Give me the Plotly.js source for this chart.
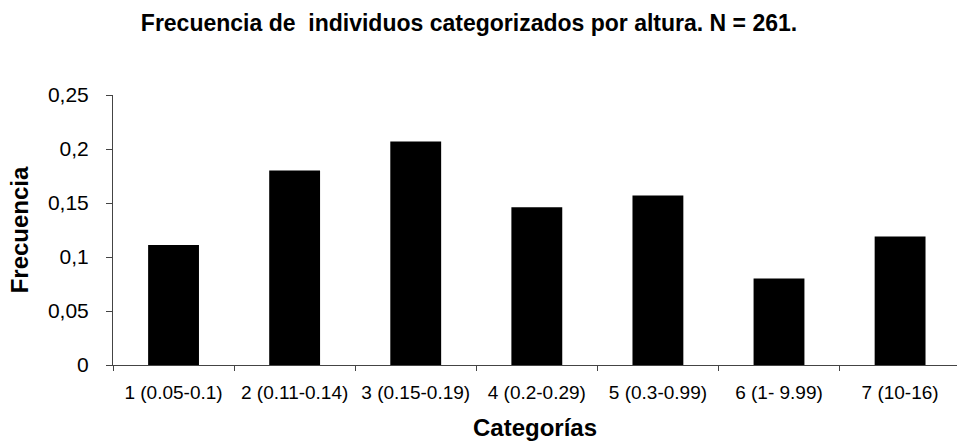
<!DOCTYPE html>
<html>
<head>
<meta charset="utf-8">
<script src="https://cdn.plot.ly/plotly-3.0.1.min.js"></script>
<style>html,body{margin:0;padding:0;background:#fff;}#chart{width:957px;height:443px;}</style>
</head>
<body>
<div id="chart"></div>
<script>
const categories = ["1 (0.05-0.1)", "2 (0.11-0.14)", "3 (0.15-0.19)", "4 (0.2-0.29)", "5 (0.3-0.99)", "6 (1- 9.99)", "7 (10-16)"];
const frecuencia = [0.111, 0.180, 0.207, 0.146, 0.157, 0.080, 0.119];
const yTickVals = [0, 0.05, 0.1, 0.15, 0.2, 0.25];
const yTickText = ["0", "0,05", "0,1", "0,15", "0,2", "0,25"];

const data = [{
  type: 'bar',
  x: categories,
  y: frecuencia,
  marker: {color: '#000000', line: {width: 0}},
  hoverinfo: 'x+y'
}];

const layout = {
  width: 957,
  height: 443,
  margin: {l: 113, r: 0, t: 95, b: 78},
  paper_bgcolor: '#ffffff',
  plot_bgcolor: '#ffffff',
  bargap: 0.58,
  showlegend: false,
  font: {family: 'Liberation Sans, Arial, sans-serif', color: '#000'},
  title: {
    text: '<b>Frecuencia de  individuos categorizados por altura. N = 261.</b>',
    font: {size: 23, family: 'Liberation Sans, Arial, sans-serif', color: '#000'},
    x: 469 / 957, xref: 'container', xanchor: 'center',
    y: 1 - 23 / 443, yref: 'container', yanchor: 'middle'
  },
  xaxis: {
    type: 'category',
    range: [-0.5, 6.47],
    showline: true, linecolor: '#444', linewidth: 1,
    ticks: 'outside', tickson: 'boundaries', ticklen: 5, tickcolor: '#444',
    tickfont: {size: 19, color: '#000'},
    ticklabelstandoff: 10,
    showgrid: false, zeroline: false,
    title: {text: '<b>Categorías</b>', font: {size: 24, color: '#000'}, standoff: 17}
  },
  yaxis: {
    range: [0, 0.25],
    tickvals: yTickVals, ticktext: yTickText,
    showline: true, linecolor: '#444', linewidth: 1,
    ticks: 'outside', ticklen: 6, tickcolor: '#444',
    tickfont: {size: 21, color: '#000'},
    ticklabelstandoff: 13,
    showgrid: false, zeroline: false,
    title: {text: '<b>Frecuencia</b>', font: {size: 24, color: '#000'}, standoff: 12}
  }
};

Plotly.newPlot('chart', data, layout, {displayModeBar: false, staticPlot: true});
</script>
</body>
</html>
